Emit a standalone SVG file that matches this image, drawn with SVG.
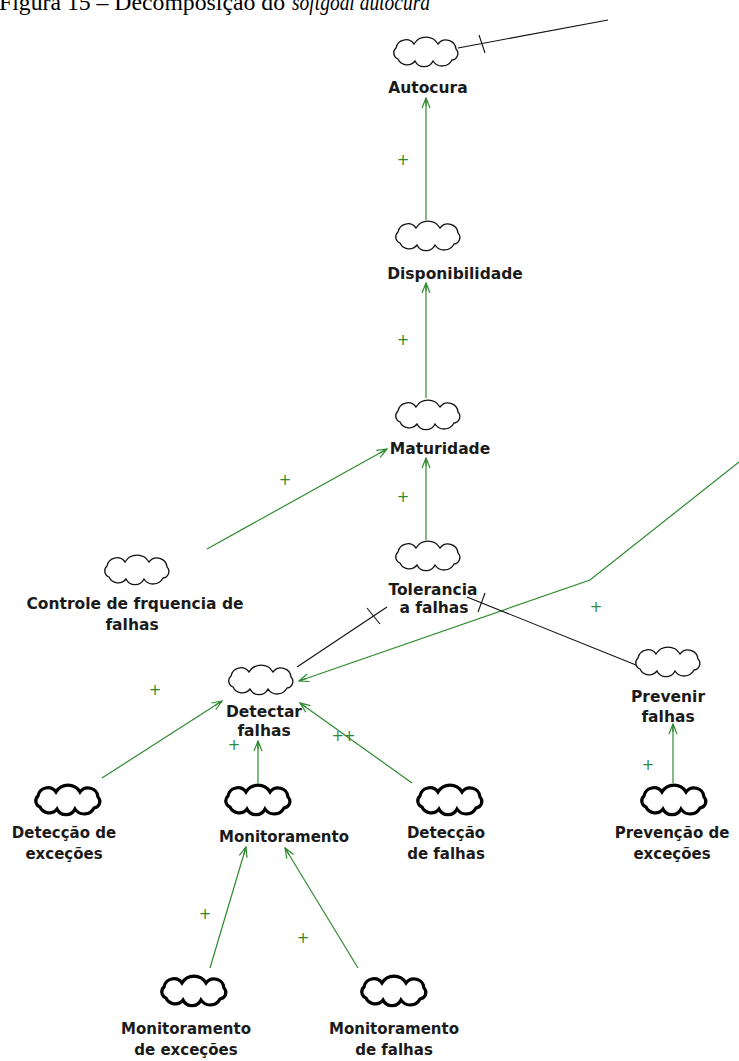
<svg xmlns="http://www.w3.org/2000/svg" xmlns:xlink="http://www.w3.org/1999/xlink" width="739" height="1061" viewBox="0 0 739 1061">
  <style>
    .title { font-family: "Liberation Serif", serif; font-size: 24px; fill: #000; }
    .soft { fill: #fff; stroke: #111; stroke-width: 1.3; }
    .task { fill: #fff; stroke: #000; stroke-width: 3.2; }
    .lbl { font-family: "DejaVu Sans", sans-serif; font-weight: bold; font-size: 15.5px; fill: #1a1a1a; text-anchor: middle; }
    .lbl2 { font-family: "DejaVu Sans", sans-serif; font-weight: bold; font-size: 15px; fill: #1a1a1a; text-anchor: middle; }
    .pos { stroke: #2f8a2f; stroke-width: 1.2; fill: none; marker-end: url(#arr); }
    .neg { stroke: #111; stroke-width: 1.1; fill: none; }
    .tick { stroke: #111; stroke-width: 1.1; }
    .plus { font-family: "DejaVu Sans", sans-serif; font-size: 15px; fill: #2f8a2f; text-anchor: middle; }
  </style>
  <defs>
    <!-- generic cloud outline, centred on 0,0 -->
    <path id="cloud" d="M-28,7 A6.5,6.5 0 0 1 -30,-4 A10,10 0 0 1 -12,-8 A14,14 0 0 1 12,-8 A10,10 0 0 1 30,-3 A6.5,6.5 0 0 1 26,8 A11,11 0 0 1 7,9 A10,10 0 0 1 -11,9 A10,10 0 0 1 -28,7 Z"/>
    <marker id="arr" viewBox="0 0 12 10" refX="11" refY="5" markerWidth="12" markerHeight="10" orient="auto" markerUnits="userSpaceOnUse">
      <path d="M1,1 L11,5 L1,9 M3,5 L11,5" fill="none" stroke="#2f8a2f" stroke-width="1.2"/>
    </marker>
  </defs>

  <rect width="739" height="1061" fill="#fff"/>

  <!-- caption, partly above the top edge -->
  <g id="caption">
    <text class="title" x="-1" y="10" textLength="286" lengthAdjust="spacingAndGlyphs">Figura 15 – Decomposição do</text>
    <text class="title" x="292" y="10" font-style="italic" textLength="138" lengthAdjust="spacingAndGlyphs">softgoal autocura</text>
  </g>

  <!-- contribution links -->
  <g id="links">
    <line class="pos" x1="426" y1="220" x2="426" y2="98"/>
    <line class="pos" x1="426" y1="398" x2="426" y2="283"/>
    <line class="pos" x1="426" y1="540" x2="426" y2="458"/>
    <line class="pos" x1="207" y1="549" x2="387" y2="449"/>
    <polyline class="pos" points="739,462 590,580 299,681"/>
    <line class="pos" x1="102" y1="778" x2="222" y2="701"/>
    <line class="pos" x1="258" y1="783" x2="258" y2="741"/>
    <line class="pos" x1="412" y1="783" x2="300" y2="703"/>
    <line class="pos" x1="673" y1="783" x2="673" y2="724"/>
    <line class="pos" x1="210" y1="968" x2="246" y2="847"/>
    <line class="pos" x1="358" y1="968" x2="285" y2="848"/>

    <line class="neg" x1="458" y1="48" x2="608" y2="20"/>
    <line class="tick" x1="479" y1="35" x2="485" y2="53"/>
    <line class="neg" x1="297" y1="667" x2="387" y2="607"/>
    <line class="tick" x1="367" y1="608" x2="380" y2="624"/>
    <line class="neg" x1="467" y1="597" x2="636" y2="665"/>
    <line class="tick" x1="485" y1="593" x2="478" y2="612"/>

    <text class="plus" x="403" y="165">+</text>
    <text class="plus" x="403" y="345">+</text>
    <text class="plus" x="285" y="485">+</text>
    <text class="plus" x="403" y="502">+</text>
    <text class="plus" x="596" y="612">+</text>
    <text class="plus" x="155" y="695">+</text>
    <text class="plus" x="234" y="750">+</text>
    <text class="plus" x="343" y="741" letter-spacing="-1">++</text>
    <text class="plus" x="648" y="770">+</text>
    <text class="plus" x="205" y="919">+</text>
    <text class="plus" x="303" y="943">+</text>
  </g>

  <!-- softgoals -->
  <g id="n-autocura">
    <use xlink:href="#cloud" class="soft" x="426" y="52"/>
    <text class="lbl" x="428" y="93">Autocura</text>
  </g>
  <g id="n-disponibilidade">
    <use xlink:href="#cloud" class="soft" x="428" y="236"/>
    <text class="lbl" x="455" y="279">Disponibilidade</text>
  </g>
  <g id="n-maturidade">
    <use xlink:href="#cloud" class="soft" x="428" y="415"/>
    <text class="lbl" x="440" y="454">Maturidade</text>
  </g>
  <g id="n-tolerancia">
    <use xlink:href="#cloud" class="soft" x="428" y="556"/>
    <text class="lbl" x="433" y="595">Tolerancia</text>
    <text class="lbl" x="434" y="613">a falhas</text>
  </g>
  <g id="n-controle">
    <use xlink:href="#cloud" class="soft" x="137" y="570"/>
    <text class="lbl" x="135" y="609">Controle de frquencia de</text>
    <text class="lbl" x="132" y="630">falhas</text>
  </g>
  <g id="n-detectar">
    <use xlink:href="#cloud" class="soft" x="261" y="680"/>
    <text class="lbl" x="264" y="717">Detectar</text>
    <text class="lbl" x="264" y="736">falhas</text>
  </g>
  <g id="n-prevenir">
    <use xlink:href="#cloud" class="soft" x="668" y="662"/>
    <text class="lbl" x="668" y="702">Prevenir</text>
    <text class="lbl" x="668" y="722">falhas</text>
  </g>

  <!-- operationalizations (bold clouds) -->
  <g id="n-det-excecoes">
    <use xlink:href="#cloud" class="task" x="68" y="800"/>
    <text class="lbl2" x="64" y="838">Detecção de</text>
    <text class="lbl2" x="64" y="859">exceções</text>
  </g>
  <g id="n-monitoramento">
    <use xlink:href="#cloud" class="task" x="258" y="800"/>
    <text class="lbl2" x="284" y="842">Monitoramento</text>
  </g>
  <g id="n-det-falhas">
    <use xlink:href="#cloud" class="task" x="450" y="800"/>
    <text class="lbl2" x="446" y="838">Detecção</text>
    <text class="lbl2" x="446" y="859">de falhas</text>
  </g>
  <g id="n-prev-excecoes">
    <use xlink:href="#cloud" class="task" x="674" y="800"/>
    <text class="lbl2" x="672" y="838">Prevenção de</text>
    <text class="lbl2" x="672" y="859">exceções</text>
  </g>
  <g id="n-mon-excecoes">
    <use xlink:href="#cloud" class="task" x="194" y="991"/>
    <text class="lbl2" x="186" y="1034">Monitoramento</text>
    <text class="lbl2" x="186" y="1055">de exceções</text>
  </g>
  <g id="n-mon-falhas">
    <use xlink:href="#cloud" class="task" x="394" y="991"/>
    <text class="lbl2" x="394" y="1034">Monitoramento</text>
    <text class="lbl2" x="394" y="1055">de falhas</text>
  </g>
</svg>
